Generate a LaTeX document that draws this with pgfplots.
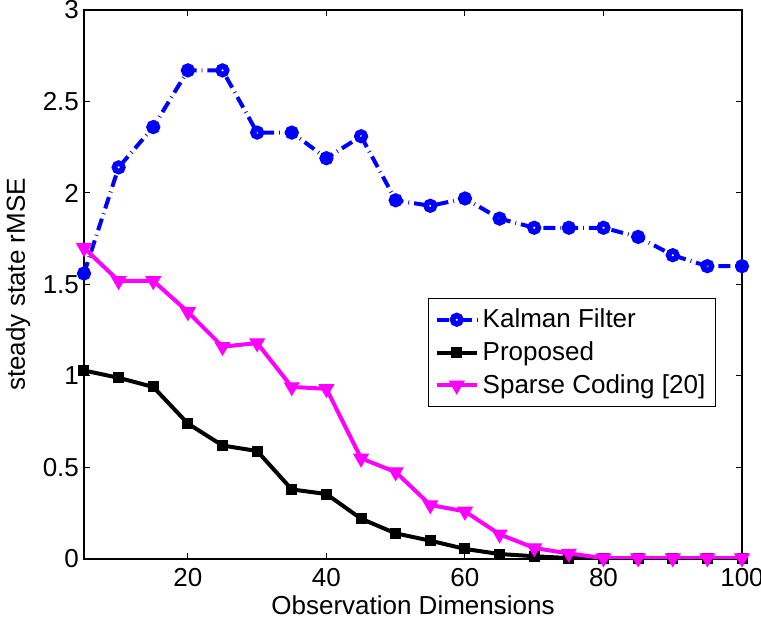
\documentclass[border=0pt]{standalone}
\usepackage{fontspec}
\setmainfont{Liberation Sans}
\usepackage{pgfplots}
\pgfplotsset{compat=1.18}

\pgfplotstableread{
x kalman proposed sparse
5 1.56 1.03 1.70
10 2.14 0.99 1.52
15 2.36 0.94 1.52
20 2.67 0.74 1.35
25 2.67 0.62 1.16
30 2.33 0.59 1.18
35 2.33 0.38 0.94
40 2.19 0.355 0.93
45 2.31 0.22 0.55
50 1.96 0.14 0.475
55 1.93 0.10 0.295
60 1.97 0.055 0.26
65 1.86 0.027 0.135
70 1.81 0.015 0.06
75 1.81 0.005 0.03
80 1.81 0.003 0.005
85 1.76 0.003 0.005
90 1.66 0.003 0.005
95 1.60 0.003 0.005
100 1.60 0.003 0.005
}\results

\definecolor{kfblue}{RGB}{0,0,255}
\definecolor{scmag}{RGB}{255,0,255}

\begin{document}
\begin{tikzpicture}
\begin{axis}[
    scale only axis,
    width=329pt, height=274.5pt,
    xmin=5, xmax=100,
    ymin=0, ymax=3,
    xtick={20,40,60,80,100},
    ytick={0,0.5,1,1.5,2,2.5,3},
    yticklabels={0,0.5,1,1.5,2,2.5,3},
    tick align=inside,
    major tick length=3pt,
    tick style={black, line width=0.5pt},
    axis line style={line width=0.6pt},
    font=\fontsize{13}{15}\selectfont,
    /pgf/number format/assume math mode=true,
    xticklabel style={yshift=-1pt},
    yticklabel style={xshift=1pt},
    xlabel={Observation Dimensions},
    ylabel={steady state rMSE},
    xlabel style={at={(axis description cs:0.5,-0.084)}, anchor=center},
    ylabel style={at={(axis description cs:-0.1,0.5)}, anchor=center, rotate=0},
    legend cell align=left,
    legend style={at={(0.523,0.475)}, anchor=north west,
        draw=black, line width=0.6pt, inner xsep=3pt, inner ysep=3pt,
        font=\fontsize{13}{16}\selectfont, row sep=1.5pt},
    legend image code/.code={
        \draw[#1, mark repeat=2, mark phase=2]
            plot coordinates {(0pt,0pt) (10pt,0pt) (20pt,0pt)};
    },
]
\addplot[kfblue, line width=2pt,
    dash pattern=on 6pt off 2.5pt on 0.4pt off 2.5pt,
    mark=o, mark size=2.1pt,
    mark options={solid, line width=2.8pt}]
    table[x=x, y=kalman] {\results};
\addlegendentry{Kalman Filter}
\addplot[black, line width=2pt,
    mark=square*, mark size=2.5pt,
    mark options={solid, line width=0.5pt}]
    table[x=x, y=proposed] {\results};
\addlegendentry{Proposed}
\addplot[scmag, line width=2pt,
    mark=triangle*, mark size=4.2pt,
    mark options={solid, rotate=180, line width=0.5pt}]
    table[x=x, y=sparse] {\results};
\addlegendentry{Sparse Coding [20]\hspace{4pt}}
\end{axis}
\pgfresetboundingbox
\path (current axis.south west) ++(-42pt,-32pt) coordinate (bl);
\path (current axis.north east) ++(9.5pt,5pt) coordinate (tr);
\path[use as bounding box] (bl) rectangle (tr);
\end{tikzpicture}
\end{document}
